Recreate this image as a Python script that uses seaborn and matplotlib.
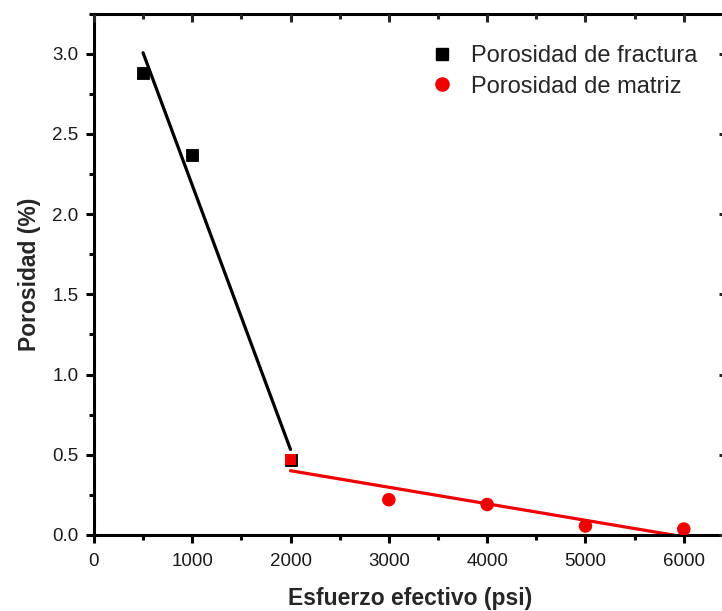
import matplotlib
matplotlib.use("Agg")
import matplotlib.pyplot as plt
import seaborn as sns
import pandas as pd
from matplotlib.ticker import MultipleLocator, FormatStrFormatter
from matplotlib.lines import Line2D

# Effective stress (psi) and porosity (%)
fract_x = [500, 1000, 2000]
fract_y = [2.88, 2.37, 0.47]
matrix_x = [2000, 3000, 4000, 5000, 6000]
matrix_y = [0.47, 0.22, 0.19, 0.056, 0.037]

label_fract = "Porosidad de fractura"
label_matrix = "Porosidad de matriz"
xlabel = "Esfuerzo efectivo (psi)"
ylabel = "Porosidad (%)"

sns.set_theme(style="ticks")
plt.rcParams["font.family"] = ["Liberation Sans", "DejaVu Sans"]

RED = "#f00000"
LW = 2.2

fig = plt.figure(figsize=(7.22, 6.11), dpi=100)
ax = fig.add_axes([0.130, 0.1244, 0.877, 0.8535])

df_f = pd.DataFrame({"x": fract_x, "y": fract_y})
df_m = pd.DataFrame({"x": matrix_x, "y": matrix_y})

# Linear fits of each series
sns.regplot(data=df_f, x="x", y="y", scatter=False, ci=None, ax=ax,
            line_kws=dict(color="black", lw=2.3, zorder=2))
sns.regplot(data=df_m, x="x", y="y", scatter=False, ci=None, ax=ax,
            line_kws=dict(color=RED, lw=2.3, zorder=2))

# Measured points
sns.scatterplot(data=df_f, x="x", y="y", marker="s", color="black", s=80,
                edgecolor="black", linewidth=0.6, ax=ax, zorder=3, legend=False)
sns.scatterplot(data=df_m.iloc[1:], x="x", y="y", marker="o", color=RED, s=95,
                edgecolor="none", ax=ax, zorder=3, legend=False)
sns.scatterplot(data=df_m.iloc[:1], x="x", y="y", marker="s", color=RED, s=62,
                edgecolor="none", ax=ax, zorder=4, legend=False)

ax.set_xlim(0, 6440)
ax.set_ylim(0, 3.25)
ax.xaxis.set_major_locator(MultipleLocator(1000))
ax.xaxis.set_minor_locator(MultipleLocator(500))
ax.yaxis.set_major_locator(MultipleLocator(0.5))
ax.yaxis.set_minor_locator(MultipleLocator(0.25))
ax.yaxis.set_major_formatter(FormatStrFormatter("%.1f"))

for side in ["left", "right", "top", "bottom"]:
    ax.spines[side].set_visible(True)
    ax.spines[side].set_linewidth(LW)
    ax.spines[side].set_color("black")

ax.tick_params(axis="both", which="major", length=6, width=LW, labelsize=13.5,
               colors="black", labelcolor="#1a1a1a", direction="out")
ax.tick_params(axis="both", which="minor", length=3.5, width=LW, colors="black",
               direction="out")
ax.tick_params(axis="x", which="both", top=False, bottom=True, pad=7)
ax.tick_params(axis="y", which="both", left=True, right=False, pad=5)

# Mirror ticks on top and right point inward
ax_top = ax.twiny()
ax_top.set_xlim(ax.get_xlim())
ax_top.xaxis.set_major_locator(MultipleLocator(1000))
ax_top.xaxis.set_minor_locator(MultipleLocator(500))
ax_top.tick_params(axis="x", which="major", direction="in", length=6, width=LW,
                   labeltop=False, top=True)
ax_top.tick_params(axis="x", which="minor", direction="in", length=3.5, width=LW, top=True)
ax_top.tick_params(axis="y", which="both", left=False, right=False, labelleft=False)
for s in ax_top.spines.values():
    s.set_visible(False)

ax_r = ax.twinx()
ax_r.set_ylim(ax.get_ylim())
ax_r.yaxis.set_major_locator(MultipleLocator(0.5))
ax_r.yaxis.set_minor_locator(MultipleLocator(0.25))
ax_r.tick_params(axis="y", which="major", direction="in", length=6, width=LW, labelright=False)
ax_r.tick_params(axis="y", which="minor", direction="in", length=3.5, width=LW)
for s in ax_r.spines.values():
    s.set_visible(False)

ax.set_xlabel(xlabel, fontsize=16.5, fontweight="bold", labelpad=12)
ax.set_ylabel(ylabel, fontsize=16.5, fontweight="bold", labelpad=8)

handles = [
    Line2D([], [], ls="none", marker="s", color="black", markersize=8),
    Line2D([], [], ls="none", marker="o", color=RED, markersize=9.5),
]
fig.legend(handles, [label_fract, label_matrix], loc="upper left",
           bbox_to_anchor=(0.566, 0.961), frameon=False, fontsize=17,
           handletextpad=0.75, labelspacing=0.36, handlelength=1.0)

fig.savefig("out.png", dpi=100)
